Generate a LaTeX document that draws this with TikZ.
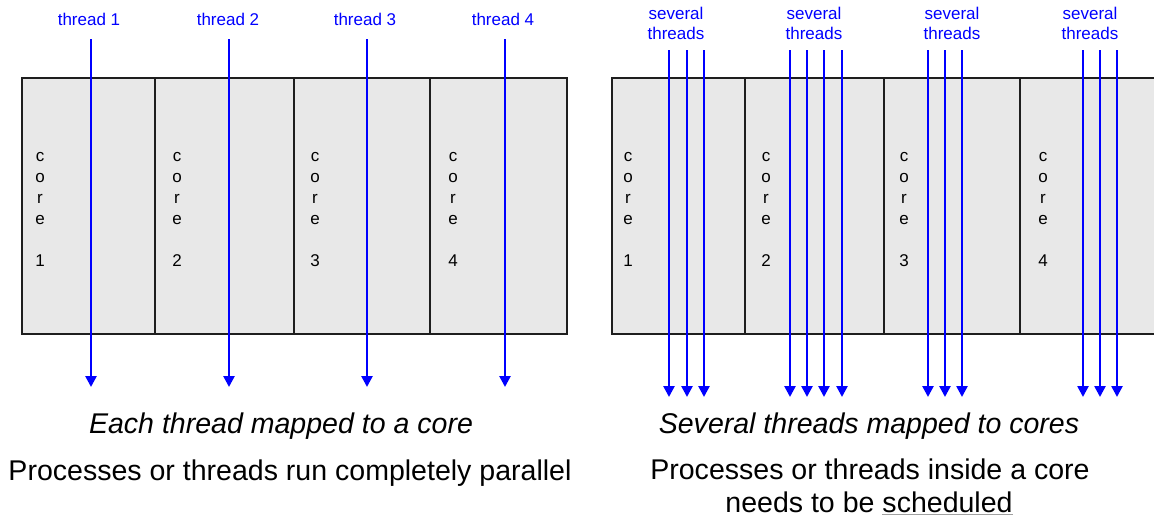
\documentclass[tikz,border=0pt]{standalone}
\usepackage{fontspec}
\setmainfont{Liberation Sans}
\usetikzlibrary{arrows.meta}
\definecolor{coregray}{HTML}{E8E8E8}
\definecolor{edgegray}{HTML}{1E1E1E}
\definecolor{threadblue}{HTML}{0000FF}
\definecolor{ulgray}{HTML}{A0A0A0}
\begin{document}
\begin{tikzpicture}[x=0.75pt,y=-0.75pt,
  corebox/.style={draw=edgegray, line width=1.5pt, fill=coregray},
  corelabel/.style={font=\fontsize{12.75}{15.75}\selectfont, align=center, anchor=north, inner sep=0pt},
  threadlabel/.style={text=threadblue, font=\fontsize{12.75}{15}\selectfont, align=center, inner sep=0pt},
  thread/.style={draw=threadblue, line width=1.9pt, -{Triangle[length=8.2pt,width=8.2pt]}},
  caption/.style={font=\fontsize{21.4}{25}\selectfont, anchor=base, inner sep=0pt},
]
\useasboundingbox (0,0) rectangle (1154,518);
\clip (0,0) rectangle (1154,518);

% ---------- left: one thread per core ----------
\draw[corebox] (22,78) rectangle (155,334);
\draw[corebox] (155,78) rectangle (294,334);
\draw[corebox] (294,78) rectangle (430,334);
\draw[corebox] (430,78) rectangle (567,334);

\node[corelabel] (lc1) at (40,152) {c\\o\\r\\e\\[15.75pt]1};
\node[corelabel] (lc2) at (177,152) {c\\o\\r\\e\\[15.75pt]2};
\node[corelabel] (lc3) at (315,152) {c\\o\\r\\e\\[15.75pt]3};
\node[corelabel] (lc4) at (453,152) {c\\o\\r\\e\\[15.75pt]4};

\node[threadlabel, anchor=base] (lt1) at (89,25) {thread 1};
\node[threadlabel, anchor=base] (lt2) at (228,25) {thread 2};
\node[threadlabel, anchor=base] (lt3) at (365,25) {thread 3};
\node[threadlabel, anchor=base] (lt4) at (503,25) {thread 4};

\foreach \x [count=\i] in {91,229,367,505} {
  \coordinate (ls\i) at (\x,39);
  \coordinate (le\i) at (\x,387);
  \draw[thread] (ls\i) -- (le\i);
}

% ---------- right: several threads per core ----------
\draw[corebox] (612,78) rectangle (745,334);
\draw[corebox] (745,78) rectangle (884,334);
\draw[corebox] (884,78) rectangle (1020,334);
\draw[corebox] (1020,78) rectangle (1160,334);

\node[corelabel] (rc1) at (628,152) {c\\o\\r\\e\\[15.75pt]1};
\node[corelabel] (rc2) at (766,152) {c\\o\\r\\e\\[15.75pt]2};
\node[corelabel] (rc3) at (904,152) {c\\o\\r\\e\\[15.75pt]3};
\node[corelabel] (rc4) at (1043,152) {c\\o\\r\\e\\[15.75pt]4};

\node[threadlabel] (rt1) at (676,23) {several\\threads};
\node[threadlabel] (rt2) at (814,23) {several\\threads};
\node[threadlabel] (rt3) at (952,23) {several\\threads};
\node[threadlabel] (rt4) at (1090,23) {several\\threads};

\foreach \x [count=\i] in {669,687,704, 790,807,824,842, 928,945,962, 1083,1100,1117} {
  \coordinate (rs\i) at (\x,50);
  \coordinate (re\i) at (\x,397);
  \draw[thread] (rs\i) -- (re\i);
}

% ---------- captions ----------
\node[caption] (capl) at (281,433) {\itshape Each thread mapped to a core};
\node[caption] (notel) at (290,480) {Processes or threads run completely parallel};
\node[caption] (capr) at (869,433) {\itshape Several threads mapped to cores};
\node[caption] (noter1) at (870,479) {Processes or threads inside a core};
\node[caption] (noter2) at (869,512) {needs to be {\color{ulgray}\underline{\color{black}scheduled}}};
\end{tikzpicture}
\end{document}
